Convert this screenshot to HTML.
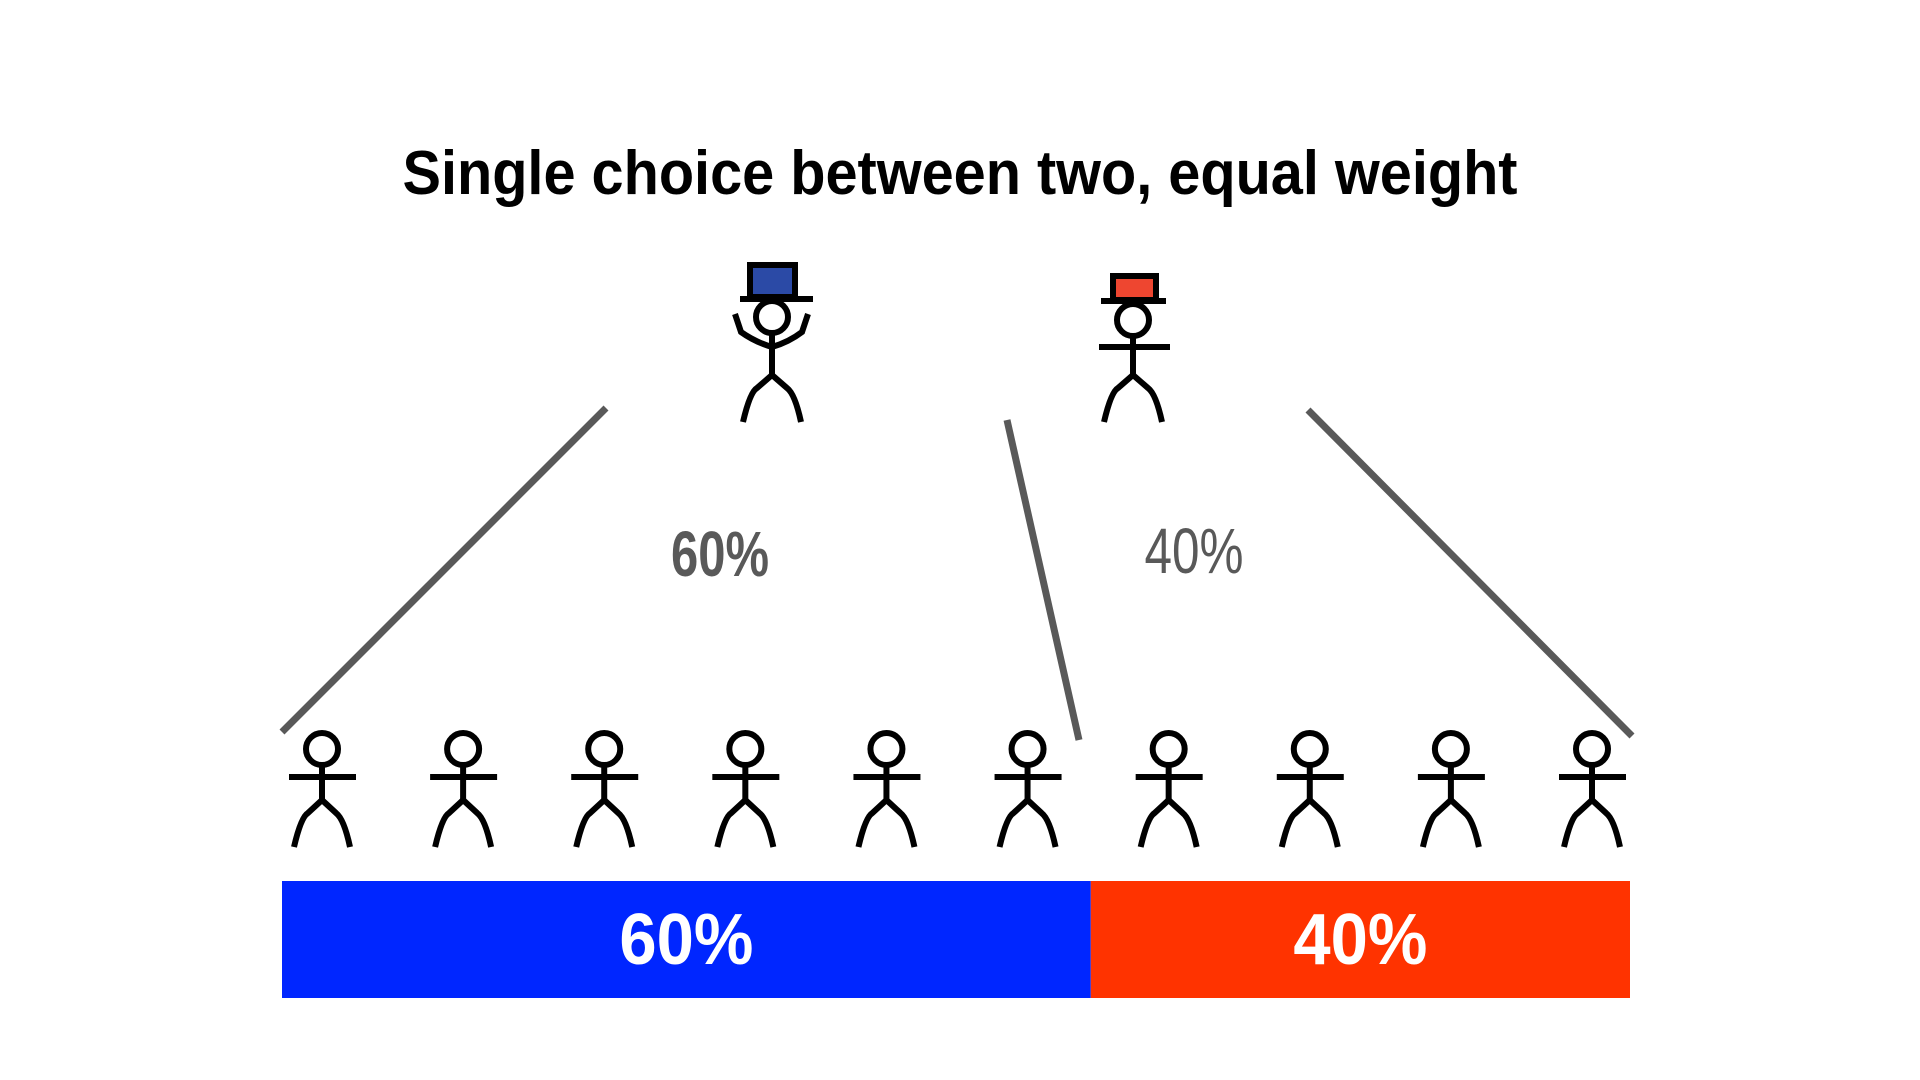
<!DOCTYPE html>
<html><head><meta charset="utf-8"><style>
html,body{margin:0;padding:0;background:#fff;width:1920px;height:1080px;overflow:hidden}
svg{display:block}
text{font-family:"Liberation Sans",sans-serif}
</style></head><body>
<svg id="chart" width="1920" height="1080" viewBox="0 0 1920 1080">
<text x="960" y="194" text-anchor="middle" font-size="62" font-weight="bold" fill="#000" textLength="1115" lengthAdjust="spacingAndGlyphs">Single choice between two, equal weight</text>
<g id="connectors" stroke="#595959" stroke-width="7" fill="none">
<line x1="606" y1="408" x2="282" y2="732"/>
<line x1="1007" y1="420" x2="1079" y2="740"/>
<line x1="1308" y1="410" x2="1632" y2="736"/>
</g>
<g id="candidates" stroke="#000" stroke-width="6" fill="none" stroke-linecap="butt">
<g>
<rect x="750" y="265" width="45" height="32" fill="#2b4aa6"/>
<line x1="740" y1="299" x2="813" y2="299"/>
<circle cx="772" cy="317" r="16"/>
<line x1="772" y1="333" x2="772" y2="375"/>
<path d="M735 314 L741 332 Q755 342 772 347 Q789 342 802 332 L808 314"/>
<path d="M743 422 Q750 392 757 388 L772 375 L787 388 Q795 394 801 422"/>
</g>
<g>
<rect x="1113" y="276" width="43" height="24" fill="#ee4630"/>
<line x1="1101" y1="301" x2="1166" y2="301"/>
<circle cx="1133" cy="320" r="16"/>
<line x1="1133" y1="336" x2="1133" y2="375"/>
<line x1="1099" y1="347" x2="1170" y2="347"/>
<path d="M1104 422 Q1111 392 1118 388 L1133 375 L1148 388 Q1156 394 1162 422"/>
</g>
</g>
<text id="lbl-a" x="720" y="576" text-anchor="middle" font-size="64" font-weight="bold" fill="#595959" textLength="98" lengthAdjust="spacingAndGlyphs"></text>
<text id="lbl-b" x="1194" y="573" text-anchor="middle" font-size="64" fill="#595959" textLength="99" lengthAdjust="spacingAndGlyphs"></text>
<g id="voters"></g>
<g id="bar"></g>
</svg>
<script>
const categories = ["Blue", "Red"];
const shares = [60, 40];
const colors = ["#0026ff", "#ff3300"];
const voterCount = 10;

const NS = "http://www.w3.org/2000/svg";
const barX0 = 282, barX1 = 1630, barY = 881, barH = 117;
const total = shares.reduce((a, b) => a + b, 0);
function xScale(v) { return barX0 + (v / total) * (barX1 - barX0); }

document.getElementById('lbl-a').textContent = shares[0] + "%";
document.getElementById('lbl-b').textContent = shares[1] + "%";

const bar = document.getElementById('bar');
let cum = 0;
shares.forEach((s, i) => {
  const r = document.createElementNS(NS, 'rect');
  
  
  const x = xScale(cum), w = xScale(cum + s) - x;
  r.setAttribute('x', x); r.setAttribute('y', barY);
  r.setAttribute('width', w); r.setAttribute('height', barH);
  r.setAttribute('fill', colors[i]);
  bar.appendChild(r);
  const t = document.createElementNS(NS, 'text');
  
  
  t.setAttribute('x', x + w / 2); t.setAttribute('y', 964);
  t.setAttribute('text-anchor', 'middle');
  t.setAttribute('font-size', '72'); t.setAttribute('font-weight', 'bold');
  t.setAttribute('fill', '#fff');
  t.setAttribute('textLength', '134'); t.setAttribute('lengthAdjust', 'spacingAndGlyphs');
  t.textContent = s + "%";
  bar.appendChild(t);
  cum += s;
});

const voters = document.getElementById('voters');
const vx0 = 322, vx1 = 1592;
for (let i = 0; i < voterCount; i++) {
  const cx = vx0 + i * (vx1 - vx0) / (voterCount - 1);
  const g = document.createElementNS(NS, 'g');
  
  
  g.setAttribute('stroke', '#000'); g.setAttribute('stroke-width', '6'); g.setAttribute('fill', 'none');
  g.innerHTML =
    '<circle cx="' + cx + '" cy="749" r="16"/>' +
    '<line x1="' + cx + '" y1="765" x2="' + cx + '" y2="803"/>' +
    '<line x1="' + (cx - 33) + '" y1="777" x2="' + (cx + 34) + '" y2="777"/>' +
    '<path d="M' + (cx - 28) + ' 847 Q' + (cx - 21) + ' 817 ' + (cx - 14) + ' 813 L' + cx + ' 800 L' + (cx + 14) + ' 813 Q' + (cx + 22) + ' 819 ' + (cx + 28) + ' 847"/>';
  voters.appendChild(g);
}
</script>
</body></html>
